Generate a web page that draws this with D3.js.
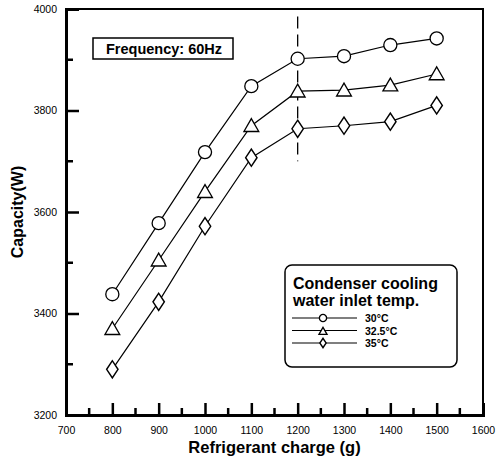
<!DOCTYPE html>
<html><head><meta charset="utf-8">
<script src="https://cdn.jsdelivr.net/npm/d3@7"></script>
<style>body{margin:0;background:#fff}svg{display:block}text{font-family:"Liberation Sans",Arial,sans-serif;fill:#000}</style>
</head><body>
<script>
const charges = [800, 900, 1000, 1100, 1200, 1300, 1400, 1500];
const cap30 = [3438, 3578, 3718, 3848, 3902, 3907, 3929, 3942];
const cap325 = [3370, 3505, 3640, 3770, 3838, 3840, 3850, 3872];
const cap35 = [3290, 3423, 3572, 3707, 3764, 3770, 3778, 3810];
const seriesNames = ["30°C", "32.5°C", "35°C"];
const seriesSymbols = ["circle", "triangle", "diamond"];
const xTicks = [700, 800, 900, 1000, 1100, 1200, 1300, 1400, 1500, 1600];
const yTicks = [3200, 3400, 3600, 3800, 4000];
const dashX = 1200, dashFrom = 3985, dashTo = 3700;

const W = 496, H = 459;
const m = {l: 66, r: 13, t: 9, b: 44};
const svg = d3.select("body").append("svg").attr("width", W).attr("height", H);
const x = d3.scaleLinear().domain([700, 1600]).range([m.l, W - m.r]);
const y = d3.scaleLinear().domain([3200, 4000]).range([H - m.b, m.t]);

// frame
svg.append("rect").attr("x", x(700)).attr("y", y(4000)).attr("width", x(1600) - x(700)).attr("height", y(3200) - y(4000))
  .attr("fill", "none").attr("stroke", "#000").attr("stroke-width", 2);

// axes
const xMinor = d3.range(750, 1600, 100);
const yMinor = d3.range(3300, 4000, 200);
const gx = svg.append("g").attr("transform", `translate(0,${y(3200)})`)
  .call(d3.axisBottom(x).tickValues(xTicks).tickSize(-12).tickPadding(12).tickFormat(d3.format("d")));
gx.selectAll(".tick line").attr("stroke-width", 2.5);
gx.selectAll(".tick text").attr("font-size", 10.5).attr("font-family", "Liberation Sans, Arial, sans-serif");
gx.select(".domain").attr("stroke-width", 3);
gx.selectAll(".minor").data(xMinor).enter().append("line").attr("class", "minor")
  .attr("x1", d => x(d)).attr("x2", d => x(d)).attr("y1", 0).attr("y2", -7).attr("stroke", "#000").attr("stroke-width", 2.5);

const gy = svg.append("g").attr("transform", `translate(${x(700)},0)`)
  .call(d3.axisLeft(y).tickValues(yTicks).tickSize(-13).tickPadding(9).tickFormat(d3.format("d")));
gy.selectAll(".tick line").attr("stroke-width", 2.5);
gy.selectAll(".tick text").attr("font-size", 10.5).attr("font-family", "Liberation Sans, Arial, sans-serif");
gy.select(".domain").attr("stroke-width", 3);
gy.selectAll(".minor").data(yMinor).enter().append("line").attr("class", "minor")
  .attr("y1", d => y(d)).attr("y2", d => y(d)).attr("x1", 0).attr("x2", 7).attr("stroke", "#000").attr("stroke-width", 2.5);

// axis titles
svg.append("text").attr("x", (x(700) + x(1600)) / 2).attr("y", 453).attr("text-anchor", "middle")
  .attr("font-size", 16.5).attr("font-weight", "bold").text("Refrigerant charge (g)");
svg.append("text").attr("transform", `translate(23,${(y(3200) + y(4000)) / 2}) rotate(-90)`).attr("text-anchor", "middle")
  .attr("font-size", 16).attr("font-weight", "bold").text("Capacity(W)");

// dashed line
svg.append("line").attr("x1", x(dashX)).attr("x2", x(dashX)).attr("y1", y(dashFrom)).attr("y2", y(dashTo))
  .attr("stroke", "#000").attr("stroke-width", 1.3).attr("stroke-dasharray", "12,6");

const symMap = {circle: d3.symbolCircle, triangle: d3.symbolTriangle, diamond: d3.symbolDiamond};
const symSize = {circle: 135, triangle: 95, diamond: 85};
function marker(g, type, scale) {
  g.append("path").attr("d", d3.symbol().type(symMap[type]).size(symSize[type] * scale)())
    .attr("fill", "#fff").attr("stroke", "#000").attr("stroke-width", 1.3)
    .attr("transform", type === "diamond" ? "scale(1.15,1)" : (type === "triangle" ? "translate(0,1.5)" : null));
}

const series = [cap30, cap325, cap35];
const line = d3.line().x((d, i) => x(charges[i])).y(d => y(d));
series.forEach((vals, si) => {
  svg.append("path").attr("d", line(vals)).attr("fill", "none").attr("stroke", "#000").attr("stroke-width", 1.2);
  vals.forEach((v, i) => {
    const g = svg.append("g").attr("transform", `translate(${x(charges[i])},${y(v)})`);
    marker(g, seriesSymbols[si], 1);
  });
});

// frequency box
svg.append("rect").attr("x", 93).attr("y", 38).attr("width", 140).attr("height", 21)
  .attr("fill", "#fff").attr("stroke", "#000").attr("stroke-width", 1.5);
svg.append("text").attr("x", 164).attr("y", 54).attr("text-anchor", "middle").attr("font-size", 14.5)
  .attr("font-weight", "bold").text("Frequency: 60Hz");

// legend
const lg = svg.append("g").attr("transform", "translate(285,265)");
lg.append("rect").attr("width", 172).attr("height", 102).attr("rx", 7).attr("fill", "#fff")
  .attr("stroke", "#000").attr("stroke-width", 1.5);
lg.append("text").attr("x", 8).attr("y", 24).attr("font-size", 16).attr("font-weight", "bold").text("Condenser cooling");
lg.append("text").attr("x", 8).attr("y", 41).attr("font-size", 16).attr("font-weight", "bold").text("water inlet temp.");
seriesNames.forEach((n, i) => {
  const yy = 53 + i * 12.5;
  lg.append("line").attr("x1", 7).attr("x2", 72).attr("y1", yy).attr("y2", yy).attr("stroke", "#000").attr("stroke-width", 1.2);
  const g = lg.append("g").attr("transform", `translate(38,${yy})`);
  marker(g, seriesSymbols[i], 0.3);
  lg.append("text").attr("x", 80).attr("y", yy + 4).attr("font-size", 10.5).attr("font-weight", "bold").text(n);
});
</script>
</body></html>
